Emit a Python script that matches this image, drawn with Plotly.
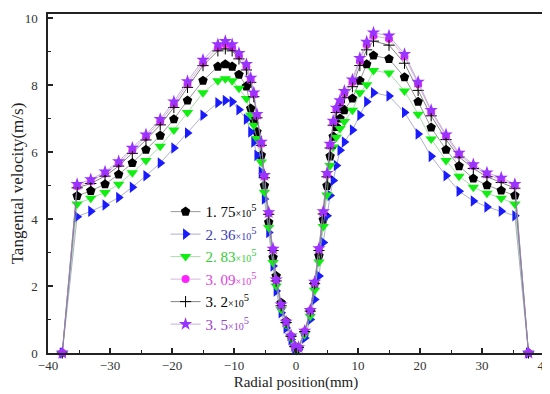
import plotly.graph_objects as go

# radial positions (mm)
x_pos = [-37.7, -35.3, -33.1, -30.8, -28.6, -26.4, -24.2, -21.9, -19.7, -17.5, -15.0,
         -12.6, -11.4, -10.3, -9.2, -8.0, -7.3, -6.8, -6.3, -5.6, -5.1, -4.4, -3.7,
         -3.2, -2.4, -1.6, -0.8, -0.2,
         0.4, 1.4, 2.3, 3.0, 3.7, 4.4, 5.0, 5.5, 6.0, 6.5, 7.1, 7.8, 9.1, 10.3, 11.4,
         12.5, 15.0, 17.5, 19.7, 21.8, 24.2, 26.3, 28.6, 30.8, 33.1, 35.3, 37.5]

v_175 = [0, 4.69, 4.84, 5.04, 5.33, 5.67, 6.07, 6.49, 6.98, 7.54, 8.13,
         8.55, 8.62, 8.55, 8.31, 7.96, 7.30, 6.95, 6.60, 5.90, 5.00, 3.90, 2.85,
         2.30, 1.50, 0.95, 0.50, 0.20,
         0.15, 0.60, 1.25, 2.06, 2.90, 3.98, 4.99, 5.87, 6.46, 6.75, 7.00, 7.25, 7.60, 8.13, 8.62,
         8.88, 8.78, 8.23, 7.50, 6.73, 6.07, 5.58, 5.21, 5.01, 4.85, 4.70, 0]

v_236 = [0, 4.07, 4.23, 4.42, 4.64, 4.95, 5.29, 5.67, 6.12, 6.57, 7.10,
         7.47, 7.54, 7.50, 7.26, 6.98, 6.60, 6.30, 5.90, 5.40, 4.60, 3.60, 2.60,
         1.85, 1.20, 0.75, 0.40, 0.12,
         0.10, 0.45, 1.00, 1.60, 2.30, 3.30, 4.10, 4.70, 5.15, 5.60, 6.05, 6.30, 6.66, 7.10, 7.50,
         7.77, 7.67, 7.18, 6.54, 5.87, 5.29, 4.83, 4.54, 4.36, 4.23, 4.10, 0]

v_283 = [0, 4.45, 4.62, 4.79, 5.04, 5.38, 5.75, 6.17, 6.66, 7.18, 7.77,
         8.13, 8.19, 8.13, 7.90, 7.60, 7.10, 6.80, 6.40, 5.70, 4.80, 3.75, 2.70,
         2.00, 1.30, 0.85, 0.45, 0.15,
         0.12, 0.55, 1.10, 1.87, 2.72, 3.78, 4.72, 5.60, 6.15, 6.44, 6.70, 6.91, 7.25, 7.77, 8.01,
         8.43, 8.36, 7.82, 7.13, 6.39, 5.75, 5.28, 4.95, 4.77, 4.62, 4.45, 0]

v_309 = [0, 4.98, 5.13, 5.36, 5.66, 6.05, 6.45, 6.91, 7.42, 8.03, 8.66,
         9.12, 9.22, 9.13, 8.88, 8.55, 8.15, 7.72, 7.08, 6.25, 5.27, 4.17, 3.08,
         2.17, 1.42, 0.92, 0.51, 0.19,
         0.16, 0.65, 1.26, 2.09, 3.09, 4.19, 5.32, 6.19, 6.87, 7.26, 7.48, 7.75, 8.09, 8.72, 9.20,
         9.47, 9.38, 8.85, 8.03, 7.20, 6.47, 5.92, 5.58, 5.33, 5.18, 4.99, 0]

v_320 = [0, 4.93, 5.06, 5.28, 5.58, 5.96, 6.36, 6.81, 7.33, 7.93, 8.58,
         9.02, 9.08, 9.02, 8.78, 8.45, 8.08, 7.65, 7.02, 6.20, 5.23, 4.14, 3.06,
         2.15, 1.41, 0.91, 0.50, 0.19,
         0.16, 0.64, 1.25, 2.07, 3.06, 4.15, 5.26, 6.12, 6.80, 7.18, 7.38, 7.62, 7.95, 8.58, 9.05,
         9.31, 9.19, 8.65, 7.84, 7.08, 6.37, 5.85, 5.51, 5.26, 5.09, 4.92, 0]

v_350 = [0, 5.04, 5.18, 5.41, 5.72, 6.12, 6.52, 6.98, 7.50, 8.11, 8.75,
         9.21, 9.31, 9.21, 8.95, 8.62, 8.21, 7.77, 7.13, 6.30, 5.31, 4.20, 3.11,
         2.19, 1.44, 0.93, 0.52, 0.20,
         0.17, 0.66, 1.28, 2.12, 3.12, 4.23, 5.37, 6.24, 6.93, 7.32, 7.54, 7.82, 8.16, 8.80, 9.29,
         9.56, 9.47, 8.92, 8.09, 7.25, 6.52, 5.97, 5.63, 5.38, 5.23, 5.04, 0]

sx = "<span style='font-size:10px'>×10</span><sup>5</sup>"
series = [
    ("1. 75", v_175, "#000000", "pentagon", "#000000", 10, "rgba(110,110,110,0.7)"),
    ("2. 36", v_236, "#1a1aff", "triangle-right", "#3a3ab8", 10, "rgba(140,140,190,0.7)"),
    ("2. 83", v_283, "#11ee11", "triangle-down", "#33cc33", 10, "rgba(140,200,140,0.7)"),
    ("3. 09", v_309, "#ff22ff", "circle", "#e040e0", 8, "rgba(200,150,200,0.7)"),
    ("3. 2", v_320, "#000000", "cross-thin", "#000000", 8, "rgba(80,80,80,0.7)"),
    ("3. 5", v_350, "#9933ff", "star", "#9940d0", 10, "rgba(170,140,210,0.7)"),
]

fig = go.Figure()
for name, vals, mcol, sym, tcol, size, lcol in series:
    marker = dict(symbol=sym, size=size, color=mcol)
    if sym == "cross-thin":
        marker["line"] = dict(color=mcol, width=1)
    else:
        marker["line"] = dict(width=0)
    fig.add_trace(go.Scatter(
        x=x_pos, y=vals, mode="lines+markers",
        name=f"<span style='color:{tcol}'>{name}{sx}</span>",
        line=dict(color=lcol, width=1),
        marker=marker, cliponaxis=False,
    ))

axis_font = dict(family="Liberation Serif, Times New Roman, serif", size=13, color="#333333")
fig.update_layout(
    width=550, height=394,
    margin=dict(l=40, r=14, t=6, b=49),
    paper_bgcolor="white", plot_bgcolor="white",
    font=dict(family="Liberation Serif, Times New Roman, serif", size=13, color="#222222"),
    legend=dict(x=0.237, y=0.465, xanchor="left", yanchor="top",
                bgcolor="rgba(0,0,0,0)", font=dict(size=15), itemwidth=30,
                tracegroupgap=0),
    showlegend=True,
)
fig.update_xaxes(
    range=[-40, 40], tickvals=[-40, -30, -20, -10, 0, 10, 20, 30, 40],
    ticks="inside", ticklen=5, tickwidth=1.5, tickcolor="#222",
    minor=dict(dtick=5, tick0=-40, ticks="inside", ticklen=3, tickwidth=1, tickcolor="#222"),
    showline=True, linecolor="#222", linewidth=1.5, mirror=True, automargin=False,
    showgrid=False, zeroline=False, tickfont=axis_font,
    title=dict(text="Radial position(mm)", font=dict(size=15, color="#222"), standoff=4),
)
fig.update_yaxes(
    range=[0, 10.12], tickvals=[0, 2, 4, 6, 8, 10],
    ticks="inside", ticklen=5, tickwidth=1.5, tickcolor="#222",
    minor=dict(dtick=1, tick0=0, ticks="inside", ticklen=3, tickwidth=1, tickcolor="#222"),
    showline=True, linecolor="#222", linewidth=1.5, mirror=True, automargin=False,
    showgrid=False, zeroline=False, tickfont=axis_font, ticklabelstandoff=6,
    title=dict(text="Tangental velocity(m/s)", font=dict(size=17, color="#222"), standoff=2),
)
fig.write_html("out.html")
